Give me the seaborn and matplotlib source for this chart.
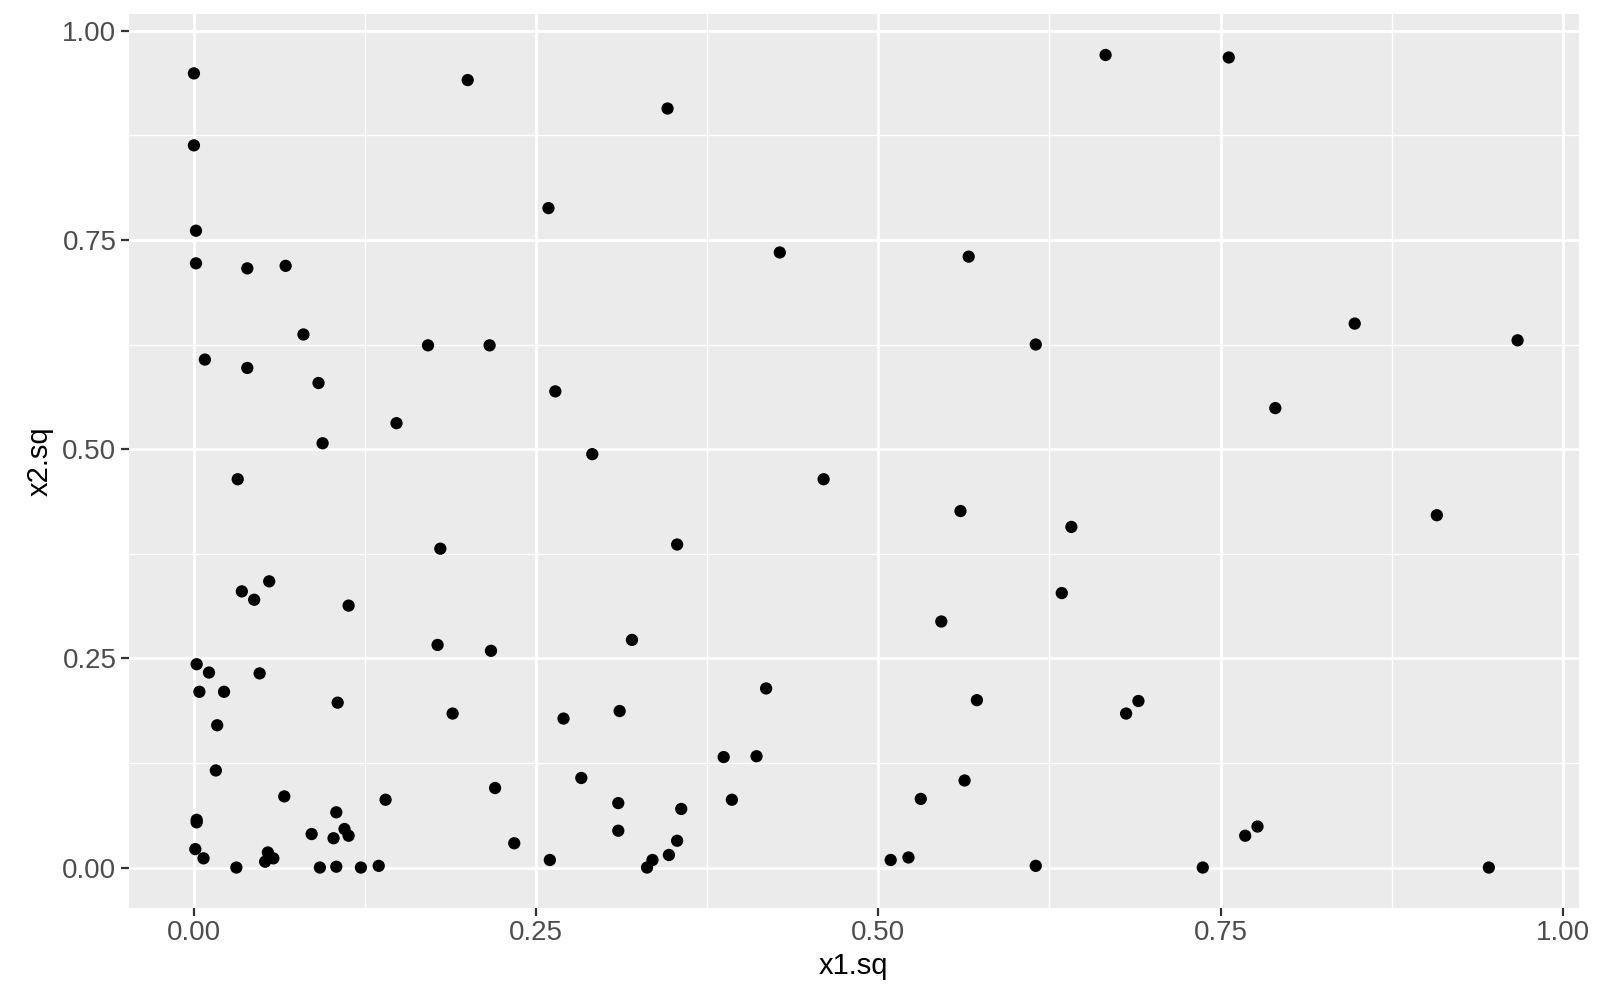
import matplotlib
matplotlib.use("Agg")
import matplotlib.pyplot as plt
import seaborn as sns
import pandas as pd
import numpy as np
from matplotlib.ticker import MultipleLocator

x1_sq = [0.000, 0.000, 0.0015, 0.0015, 0.200, 0.346, 0.666, 0.756, 0.259, 0.428,
         0.566, 0.039, 0.067, 0.080, 0.008, 0.039, 0.091, 0.171, 0.216, 0.615,
         0.848, 0.967, 0.264, 0.148, 0.094, 0.291, 0.790, 0.032, 0.460, 0.560,
         0.641, 0.908, 0.180, 0.353, 0.035, 0.055, 0.044, 0.113, 0.634, 0.546,
         0.178, 0.217, 0.320, 0.002, 0.011, 0.048, 0.004, 0.022, 0.017, 0.105,
         0.189, 0.270, 0.311, 0.418, 0.572, 0.681, 0.690, 0.016, 0.387, 0.411,
         0.283, 0.563, 0.066, 0.220, 0.140, 0.393, 0.531, 0.310, 0.356, 0.002,
         0.002, 0.104, 0.086, 0.110, 0.102, 0.113, 0.310, 0.353, 0.777, 0.768,
         0.234, 0.001, 0.007, 0.054, 0.052, 0.058, 0.031, 0.092, 0.104, 0.122,
         0.135, 0.260, 0.331, 0.335, 0.347, 0.509, 0.522, 0.615, 0.737, 0.946]
x2_sq = [0.949, 0.863, 0.761, 0.722, 0.941, 0.907, 0.971, 0.968, 0.788, 0.735,
         0.730, 0.716, 0.719, 0.637, 0.607, 0.597, 0.579, 0.624, 0.624, 0.625,
         0.650, 0.630, 0.569, 0.531, 0.507, 0.494, 0.549, 0.464, 0.464, 0.426,
         0.407, 0.421, 0.381, 0.386, 0.330, 0.342, 0.320, 0.313, 0.328, 0.294,
         0.266, 0.259, 0.272, 0.243, 0.233, 0.232, 0.210, 0.210, 0.170, 0.197,
         0.184, 0.178, 0.187, 0.214, 0.200, 0.184, 0.199, 0.116, 0.132, 0.133,
         0.107, 0.104, 0.085, 0.095, 0.081, 0.081, 0.082, 0.077, 0.070, 0.057,
         0.054, 0.066, 0.040, 0.046, 0.035, 0.038, 0.044, 0.032, 0.049, 0.038,
         0.029, 0.022, 0.011, 0.018, 0.007, 0.011, 0.000, 0.000, 0.001, 0.000,
         0.002, 0.009, 0.000, 0.009, 0.015, 0.009, 0.012, 0.002, 0.000, 0.000]

df = pd.DataFrame({"x1.sq": x1_sq, "x2.sq": x2_sq})

sns.set_theme(style="darkgrid")
plt.rcParams['font.family'] = ['Liberation Sans', 'DejaVu Sans']

fig = plt.figure(figsize=(16, 10), dpi=100)
ax = fig.add_axes([0.0804, 0.0918, 0.9066, 0.8939])
ax.set_facecolor("#EBEBEB")

sns.scatterplot(data=df, x="x1.sq", y="x2.sq", ax=ax, color="black",
                s=78, edgecolor="none", linewidth=0, zorder=3)

ax.set_xlim(-0.0477, 1.012)
ax.set_ylim(-0.0486, 1.0196)
ax.xaxis.set_major_locator(MultipleLocator(0.25))
ax.yaxis.set_major_locator(MultipleLocator(0.25))
ax.xaxis.set_minor_locator(MultipleLocator(0.125))
ax.yaxis.set_minor_locator(MultipleLocator(0.125))
ax.xaxis.set_major_formatter(matplotlib.ticker.FormatStrFormatter('%.2f'))
ax.yaxis.set_major_formatter(matplotlib.ticker.FormatStrFormatter('%.2f'))

ax.grid(which="major", color="white", linewidth=2.0)
ax.grid(which="minor", color="white", linewidth=1.0)
ax.set_axisbelow(True)
for sp in ax.spines.values():
    sp.set_visible(False)

ax.tick_params(axis="both", which="major", length=5.8, width=1.6, color="#333333",
               labelcolor="#4D4D4D", labelsize=20, pad=3, bottom=True, left=True)
ax.tick_params(axis="both", which="minor", length=0)

ax.set_xlabel("x1.sq", fontsize=21, color="black", labelpad=4)
ax.set_ylabel("x2.sq", fontsize=21, color="black", labelpad=6)

fig.savefig("out.png", dpi=100, facecolor="white")
